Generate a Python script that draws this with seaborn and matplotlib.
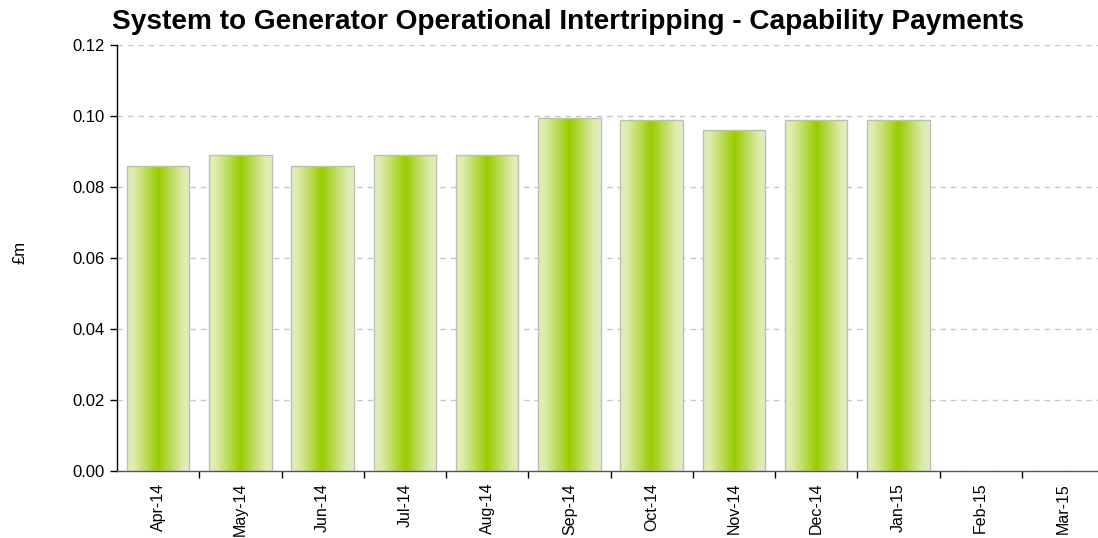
import numpy as np
import pandas as pd
import matplotlib
matplotlib.use("Agg")
import matplotlib.pyplot as plt
from matplotlib.colors import LinearSegmentedColormap
import seaborn as sns

months = ["Apr-14", "May-14", "Jun-14", "Jul-14", "Aug-14", "Sep-14",
          "Oct-14", "Nov-14", "Dec-14", "Jan-15", "Feb-15", "Mar-15"]
values = [0.086, 0.089, 0.086, 0.089, 0.089, 0.0995,
          0.099, 0.096, 0.099, 0.099, 0.0, 0.0]
yticks = [0.00, 0.02, 0.04, 0.06, 0.08, 0.10, 0.12]
title = "System to Generator Operational Intertripping - Capability Payments"
ylabel = "£m"

sns.set_theme(style="white")
plt.rcParams["font.family"] = ["Liberation Sans", "DejaVu Sans"]

W, H = 1098, 538
fig = plt.figure(figsize=(W / 100, H / 100), dpi=100)
ax = fig.add_axes([117 / W, (H - 471) / H, 987 / W, 426 / H])

df = pd.DataFrame({"month": months, "value": values})
sns.barplot(data=df, x="month", y="value", ax=ax, width=0.76,
            color="#99CC00", edgecolor="#BDBDBD", linewidth=1.0,
            saturation=1, zorder=3)

cmap = LinearSegmentedColormap.from_list(
    "grad", [(0.0, "#E3EFBA"), (0.12, "#DCEBAA"), (0.5, "#99CC00"),
             (0.88, "#DCEBAA"), (1.0, "#E3EFBA")])
grad = np.linspace(0, 1, 256).reshape(1, -1)
for p in ax.patches:
    x0, y0 = p.get_x(), p.get_y()
    w, h = p.get_width(), p.get_height()
    if h <= 0:
        p.set_visible(False)
        continue
    im = ax.imshow(grad, cmap=cmap, aspect="auto", extent=[x0, x0 + w, y0, y0 + h],
                   interpolation="bilinear", zorder=2.5)
    im.set_clip_path(p)
    p.set_facecolor("none")

ax.set_xlim(-0.5, len(months) - 0.5)
ax.set_ylim(0, 0.12)
ax.set_yticks(yticks)
ax.set_yticklabels([f"{v:.2f}" for v in yticks], fontsize=12, color="black")
ax.yaxis.grid(True, color="#C8C8C8", linestyle=(0, (4, 3.5)), linewidth=1.0, zorder=0)
ax.set_axisbelow(True)

ax.set_xticks(np.arange(len(months)))
ax.set_xticklabels(months, rotation=90, fontsize=11.5, color="black")
ax.set_xticks(np.arange(len(months)) + 0.5, minor=True)
ax.tick_params(axis="x", which="major", length=0, pad=8.5, bottom=True)
ax.tick_params(axis="x", which="minor", length=5, width=1, color="black",
               direction="out", bottom=True)
ax.tick_params(axis="y", which="major", length=5, width=1, color="black",
               direction="out", left=True, pad=4)

for s in ["top", "right"]:
    ax.spines[s].set_visible(False)
ax.spines["left"].set_color("black")
ax.spines["left"].set_linewidth(1.0)
ax.spines["bottom"].set_color("#555555")
ax.spines["bottom"].set_linewidth(1.0)

ax.set_xlabel("")
ax.set_ylabel("")
fig.text(20 / W, 1 - 252 / H, ylabel, rotation=90, ha="center", va="center",
         fontsize=12, color="black")
fig.text(568 / W, 1 - 22 / H, title, ha="center", va="center",
         fontsize=20.2, fontweight="bold", color="black")

fig.savefig("out.png", dpi=100)
